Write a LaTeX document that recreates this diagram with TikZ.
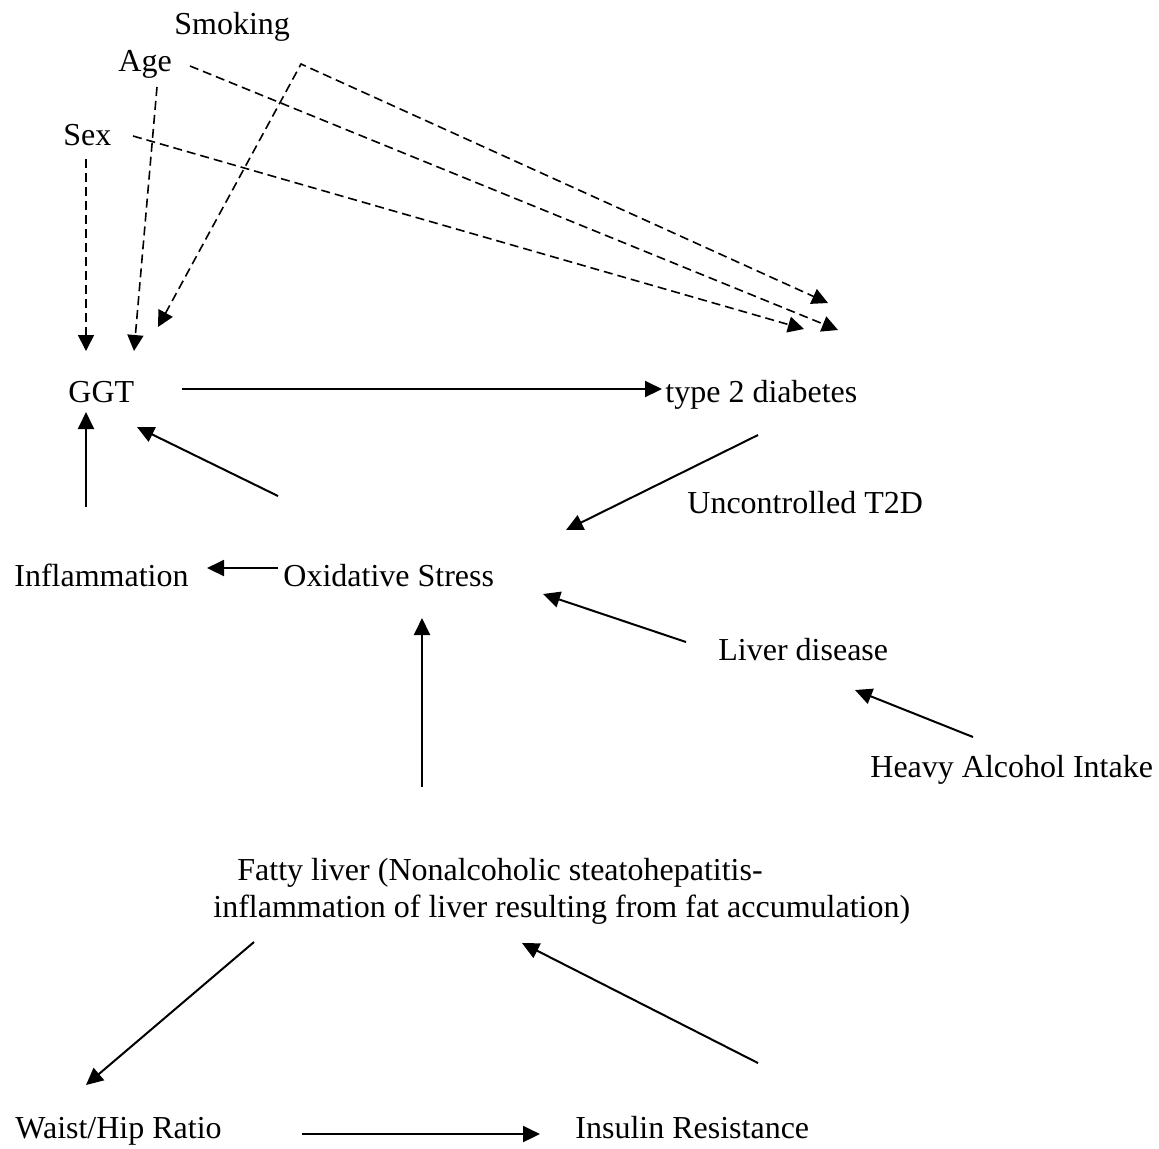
\documentclass[tikz,border=0pt]{standalone}
\usepackage{fontspec}
\setmainfont{Liberation Serif}
\usetikzlibrary{arrows.meta}
\begin{document}
\begin{tikzpicture}[x=0.5pt,y=-0.5pt,
  lbl/.style={anchor=base west, inner sep=0pt, font=\fontsize{16pt}{18.5pt}\selectfont},
  arr/.style={-{Triangle[length=8.5pt,width=8pt]}, line width=1pt},
  darr/.style={-{Triangle[length=8pt,width=8pt]}, line width=0.8pt, dash pattern=on 4.5pt off 2.5pt}]
\fill[white] (0,0) rectangle (1159,1148);
\useasboundingbox (0,0) rectangle (1159,1148);
% labels
\node[lbl] (smoking) at (174,34) {Smoking};
\node[lbl] (age) at (118,71) {Age};
\node[lbl] (sex) at (63,145) {Sex};
\node[lbl] (ggt) at (68,402) {GGT};
\node[lbl] (t2d) at (665,402) {type 2 diabetes};
\node[lbl] (unc) at (687,513) {Uncontrolled T2D};
\node[lbl] (infl) at (14,586) {Inflammation};
\node[lbl] (oxid) at (283,586) {Oxidative Stress};
\node[lbl] (liver) at (718,660) {Liver disease};
\node[lbl] (heavy) at (870,777) {Heavy Alcohol Intake};
\node[lbl] (fatty) at (237,880) {Fatty liver (Nonalcoholic steatohepatitis-};
\node[lbl] (fattyb) at (213,917) {inflammation of liver resulting from fat accumulation)};
\node[lbl] (waist) at (15,1138) {Waist/Hip Ratio};
\node[lbl] (insulin) at (575,1138) {Insulin Resistance};
% connector end points
\coordinate (sexD1) at (86,159);   \coordinate (sexD2) at (86,351);
\coordinate (ageD1) at (157,87);   \coordinate (ageD2) at (134,351);
\coordinate (smkG) at (158,327);   \coordinate (smkC) at (301,64);  \coordinate (smkT) at (828,303);
\coordinate (ageR1) at (190,66);   \coordinate (ageR2) at (838,330);
\coordinate (sexR1) at (133,136);  \coordinate (sexR2) at (804,329);
\coordinate (ggtE) at (182,389);   \coordinate (t2dW) at (662,389);
\coordinate (inflN) at (86,507);   \coordinate (ggtS) at (86,412);
\coordinate (oxidNW) at (278,496); \coordinate (ggtSE) at (137,427);
\coordinate (oxidW) at (278,568);  \coordinate (inflE) at (207,568);
\coordinate (t2dS) at (758,435);   \coordinate (oxidNE) at (566,530);
\coordinate (liverW) at (686,642); \coordinate (oxidE) at (543,594);
\coordinate (heavyN) at (973,737); \coordinate (liverS) at (855,690);
\coordinate (fattyN) at (422,787); \coordinate (oxidS) at (422,618);
\coordinate (fattySW) at (254,942);\coordinate (waistN) at (86,1085);
\coordinate (insN) at (758,1063);  \coordinate (fattySE) at (522,943);
\coordinate (waistE) at (302,1134);\coordinate (insW) at (540,1134);
% dashed confounder arrows
\draw[darr] (sexD1) -- (sexD2);
\draw[darr] (ageD1) -- (ageD2);
\draw[darr, {Triangle[length=8pt,width=8pt]}-{Triangle[length=8pt,width=8pt]}] (smkG) -- (smkC) -- (smkT);
\draw[darr] (ageR1) -- (ageR2);
\draw[darr] (sexR1) -- (sexR2);
% solid arrows
\draw[arr] (ggtE) -- (t2dW);
\draw[arr] (inflN) -- (ggtS);
\draw[arr] (oxidNW) -- (ggtSE);
\draw[arr] (oxidW) -- (inflE);
\draw[arr] (t2dS) -- (oxidNE);
\draw[arr] (liverW) -- (oxidE);
\draw[arr] (heavyN) -- (liverS);
\draw[arr] (fattyN) -- (oxidS);
\draw[arr] (fattySW) -- (waistN);
\draw[arr] (insN) -- (fattySE);
\draw[arr] (waistE) -- (insW);
\end{tikzpicture}
\end{document}
